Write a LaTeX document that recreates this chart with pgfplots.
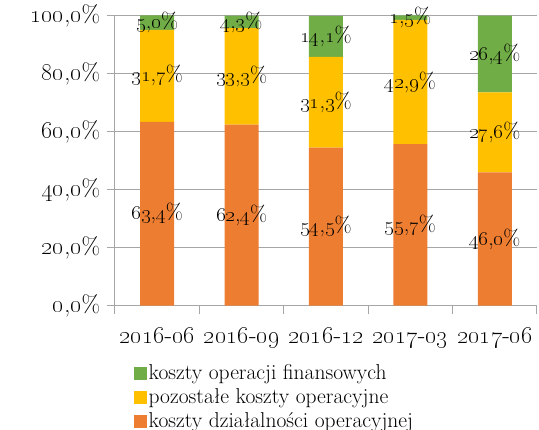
\documentclass[border=0pt]{standalone}
\usepackage{pgfplots}
\pgfplotsset{compat=1.18}
\definecolor{cgreen}{HTML}{70AD47}
\definecolor{cyellow}{HTML}{FFC000}
\definecolor{corange}{HTML}{ED7D31}
\definecolor{cgrid}{RGB}{166,166,166}
\pgfplotsset{
  sqlegend/.style={legend image code/.code={\fill[##1] (0bp,-6.5bp) rectangle (13bp,6.5bp);}},
}
\newcommand\osn[1]{\oldstylenums{#1}}
\begin{document}
\fontsize{20bp}{24bp}\selectfont
\begin{tikzpicture}[font=\fontsize{20.5bp}{24bp}\selectfont]
\useasboundingbox (-115bp,-124.3bp) rectangle (424bp,305.7bp);
\begin{axis}[
  scale only axis, width=422bp, height=290bp,
  ybar stacked, bar width=34bp,
  xmin=-0.5, xmax=4.5, ymin=0, ymax=100,
  clip=false,
  axis x line*=bottom, axis y line*=left,
  axis line style={cgrid, line width=1bp},
  tick align=outside,
  xtick={0,...,4},
  xticklabels={\osn{2016}-\osn{06},\osn{2016}-\osn{09},\osn{2016}-\osn{12},\osn{2017}-\osn{03},\osn{2017}-\osn{06}},
  xticklabel style={font=\fontsize{25bp}{28bp}\selectfont, anchor=base, yshift=-30bp},
  major x tick style={draw=none},
  minor xtick={-0.5,0.5,...,4.5},
  minor tick length=8bp,
  minor x tick style={cgrid, line width=1bp},
  ytick={0,20,...,100},
  major tick length=8bp,
  major y tick style={cgrid, line width=1bp},
  yticklabel style={font=\fontsize{24bp}{28bp}\selectfont},
  ymajorgrids, major grid style={cgrid, line width=1bp},
  /pgf/number format/.cd, fixed, fixed zerofill, precision=1, set decimal separator={\textnormal{,}}, assume math mode=true,
  /pgfplots/.cd,
  yticklabel={\oldstylenums{\pgfmathprintnumber{\tick}}\%},
  nodes near coords={\oldstylenums{\pgfmathprintnumber{\pgfplotspointmeta}}\%},
  every node near coord/.append style={black, inner sep=0pt, font=\fontsize{22bp}{26bp}\selectfont},
  legend style={at={(axis description cs:0.045,-0.196)}, anchor=north west, draw=none, fill=none,
    inner sep=0pt, row sep=3bp, font=\fontsize{21.5bp}{25bp}\selectfont, nodes={inner sep=1.5bp, anchor=west}},
  reverse legend,
]
\addplot[fill=corange, draw=none, sqlegend] coordinates {(0,63.4) (1,62.4) (2,54.5) (3,55.7) (4,46.0)};
\addlegendentry{koszty działalności operacyjnej}
\addplot[fill=cyellow, draw=none, sqlegend] coordinates {(0,31.7) (1,33.3) (2,31.3) (3,42.9) (4,27.6)};
\addlegendentry{pozostałe koszty operacyjne}
\addplot[fill=cgreen, draw=none, sqlegend] coordinates {(0,5.0) (1,4.3) (2,14.1) (3,1.5) (4,26.4)};
\addlegendentry{koszty operacji finansowych}
\end{axis}
\end{tikzpicture}
\end{document}
